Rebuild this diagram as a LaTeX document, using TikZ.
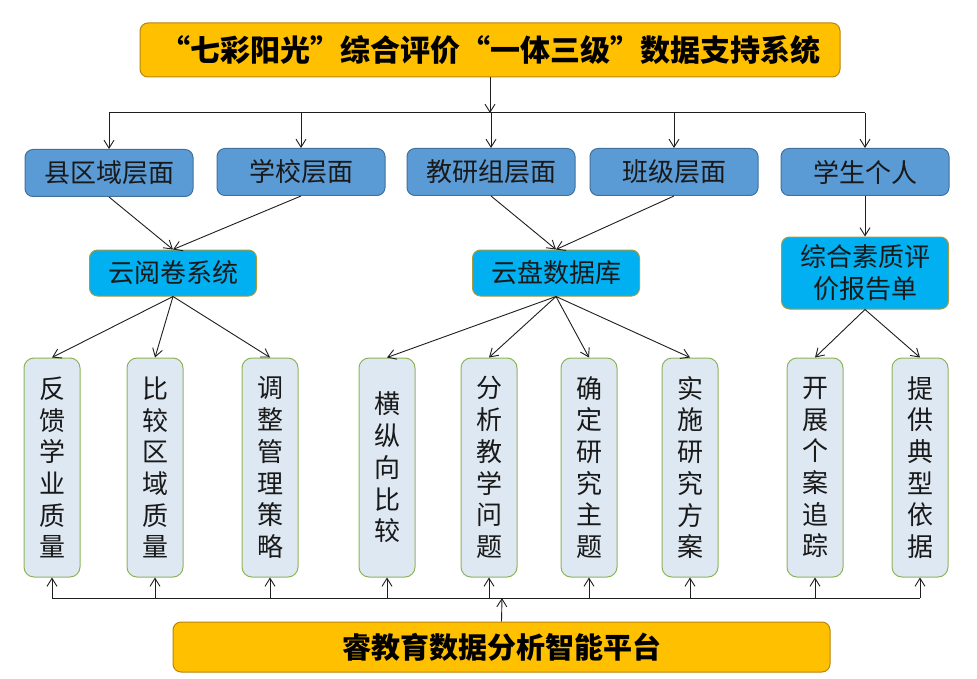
\documentclass[tikz,border=0pt]{standalone}
\usepackage{fontspec}
\setmainfont{Noto Sans CJK SC}
\usetikzlibrary{arrows.meta}
\definecolor{ttlf}{HTML}{FFC000}
\definecolor{ttlb}{HTML}{B8860B}
\definecolor{lvlf}{HTML}{5B9BD5}
\definecolor{lvlb}{HTML}{41719C}
\definecolor{sysf}{HTML}{00B0F0}
\definecolor{sysb}{HTML}{A89A40}
\definecolor{tallf}{HTML}{DEE8F2}
\definecolor{tallb}{HTML}{8DB45A}
\definecolor{linec}{HTML}{1E1E1E}
\begin{document}
\begin{tikzpicture}[x=1pt,y=-1pt,
  base/.style={rounded corners=8pt, inner sep=0pt, line width=1pt},
  ttlbox/.style={base, fill=ttlf, draw=ttlb, minimum width=700pt, minimum height=54pt, font=\fontsize{30}{36}\selectfont\bfseries},
  lvl/.style={base, fill=lvlf, draw=lvlb, minimum width=168pt, minimum height=47pt, font=\fontsize{26}{30}\selectfont, text=black!90},
  sysbox/.style={base, fill=sysf, draw=sysb, minimum width=167pt, minimum height=46pt, align=center, font=\fontsize{26}{32}\selectfont, text=black!90},
  tall/.style={base, rounded corners=10pt, fill=tallf, draw=tallb, minimum width=56pt, minimum height=219pt, align=center, font=\fontsize{26}{31.7}\selectfont, text=black!90},
  arr/.style={draw=linec, line width=0.9pt, -{Straight Barb[length=8pt,width=10pt]}},
  ln/.style={draw=linec, line width=1pt}]
\useasboundingbox[fill=white] (0,0) rectangle (977,679);

% title
\node[ttlbox] (top) at (490,50) {“七彩阳光”综合评价“一体三级”数据支持系统};

% level 2
\node[lvl] (a) at (109,173) {县区域层面};
\node[lvl] (b) at (301,172) {学校层面};
\node[lvl] (c) at (491,172) {教研组层面};
\node[lvl] (d) at (674,172) {班级层面};
\node[lvl] (e) at (865,172) {学生个人};

% level 3
\node[sysbox] (s1) at (173,273) {云阅卷系统};
\node[sysbox] (s2) at (556,273) {云盘数据库};
\node[sysbox, minimum height=72pt] (s3) at (865,273) {综合素质评\\价报告单};

% tall boxes
\node[tall] (t1) at (52,467.5) {反\\馈\\学\\业\\质\\量};
\node[tall] (t2) at (155,467.5) {比\\较\\区\\域\\质\\量};
\node[tall] (t3) at (270,467.5) {调\\整\\管\\理\\策\\略};
\node[tall] (t4) at (387,467.5) {横\\纵\\向\\比\\较};
\node[tall] (t5) at (489,467.5) {分\\析\\教\\学\\问\\题};
\node[tall] (t6) at (589,467.5) {确\\定\\研\\究\\主\\题};
\node[tall] (t7) at (690,467.5) {实\\施\\研\\究\\方\\案};
\node[tall] (t8) at (815,467.5) {开\\展\\个\\案\\追\\踪};
\node[tall] (t9) at (920,467.5) {提\\供\\典\\型\\依\\据};

% bottom
\node[ttlbox, minimum width=657pt, minimum height=50pt, font=\fontsize{29}{34}\selectfont\bfseries] (bot) at (501.5,647) {睿教育数据分析智能平台};

% top distribution
\coordinate (J) at (490,113);
\draw[arr] (top.south) -- (J);
\draw[ln] (a.north |- J) -- (e.north |- J);
\foreach \n in {a,b,c,d,e} \draw[arr] (\n.north |- J) -- (\n.north);

% level 2 -> level 3
\draw[arr] (a.south) -- (s1.north);
\draw[arr] (b.south) -- (s1.north);
\draw[arr] (c.south) -- (s2.north);
\draw[arr] (d.south) -- (s2.north);
\draw[arr] (e.south) -- (s3.north);

% level 3 -> tall
\foreach \n in {t1,t2,t3} \draw[arr] (s1.south) -- (\n.north);
\foreach \n in {t4,t5,t6,t7} \draw[arr] (s2.south) -- (\n.north);
\foreach \n in {t8,t9} \draw[arr] (s3.south) -- (\n.north);

% bottom distribution
\coordinate (B) at (502,598);
\draw[ln] (t1.south |- B) -- (t9.south |- B);
\foreach \n in {t1,t2,t3,t4,t5,t6,t7,t8,t9} \draw[arr] (\n.south |- B) -- (\n.south);
\draw[arr] (bot.north) -- (B);
\end{tikzpicture}
\end{document}
